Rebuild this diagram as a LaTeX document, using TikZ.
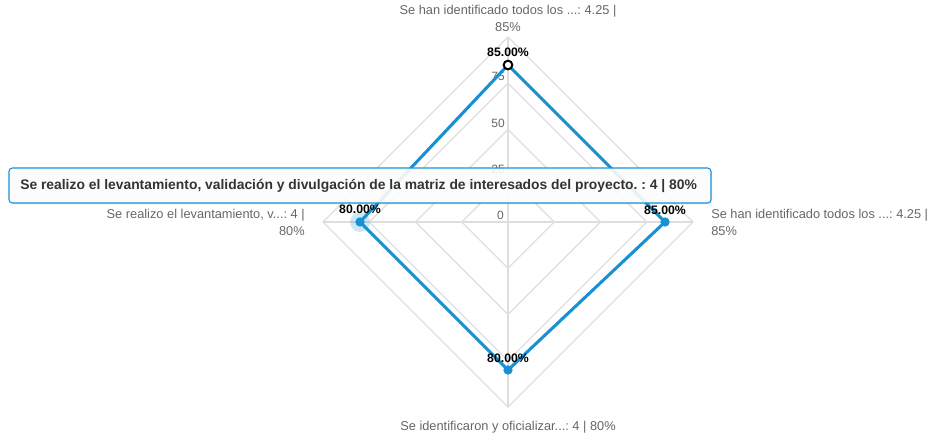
\documentclass[tikz,border=0pt]{standalone}
\usepackage{fontspec}
\setmainfont{Liberation Sans}
\usetikzlibrary{shadows}
\frenchspacing
\definecolor{serie}{RGB}{24,144,212}
\definecolor{gridc}{RGB}{222,222,222}
\definecolor{axlab}{RGB}{102,102,102}
\definecolor{tipc}{RGB}{51,51,51}
\tikzset{
  gridline/.style={draw=gridc, line width=0.9pt},
  scalelab/.style={anchor=east, inner sep=0pt, text=axlab, font=\fontsize{9}{10}\selectfont},
  axislab/.style={inner sep=0pt, text=axlab, font=\fontsize{9.6}{12.4}\selectfont},
  datalab/.style={inner sep=0pt, text=black, font=\bfseries\fontsize{9.2}{10}\selectfont},
  serieline/.style={draw=serie, line width=2.3pt, line join=round},
  dot/.style={circle, fill=serie, inner sep=0pt, minimum size=7pt},
  opendot/.style={circle, draw=black, fill=white, line width=1.5pt, inner sep=0pt, minimum size=6.5pt},
  halo/.style={circle, fill=serie, fill opacity=0.22, inner sep=0pt, minimum size=15pt},
  tipbox/.style={draw=serie, line width=0.8pt, fill=white, fill opacity=0.88, rounded corners=2.5pt,
     drop shadow={shadow xshift=1pt, shadow yshift=-1pt, opacity=0.15}},
  tiptext/.style={anchor=west, inner sep=0pt, text=tipc, font=\bfseries\fontsize{10.4}{12}\selectfont}
}
\begin{document}
\begin{tikzpicture}[x=0.75pt,y=-0.75pt]
\useasboundingbox (0,0) rectangle (928,438);
\coordinate (c) at (508,222);
% grid rings
\foreach \r in {46.25,92.5,138.75,185}{
  \draw[gridline] (508,222-\r) -- (508+\r,222) -- (508,222+\r) -- (508-\r,222) -- cycle;
}
\coordinate (axT) at (508,37);
\coordinate (axB) at (508,407);
\coordinate (axL) at (323,222);
\coordinate (axR) at (693,222);
\draw[gridline] (axT) -- (axB);
\draw[gridline] (axL) -- (axR);
% scale labels
\node[scalelab] (s75) at (505,76) {75};
\node[scalelab] (s50) at (505,123) {50};
\node[scalelab] (s25) at (505,169) {25};
\node[scalelab] (s0) at (504,215) {0};
% data points
\coordinate (p1) at (508,65);
\coordinate (p2) at (665,222);
\coordinate (p3) at (508,370);
\coordinate (p4) at (360,222);
\draw[serieline] (p1) -- (p2) -- (p3) -- (p4) -- cycle;
\node[halo] (h4) at (p4) {};
\node[dot] (d2) at (p2) {};
\node[dot] (d3) at (p3) {};
\node[dot] (d4) at (p4) {};
\node[opendot] (d1) at (p1) {};
% data labels
\node[datalab] (l1) at (508,52) {85.00\%};
\node[datalab] (l2) at (665,210) {85.00\%};
\node[datalab] (l3) at (508,358) {80.00\%};
\node[datalab] (l4) at (360,209) {80.00\%};
% axis labels
\node[axislab, align=center, anchor=north] (a1) at (508,5) {Se han identificado todos los ...: 4.25 |\\85\%};
\node[axislab, align=left, anchor=north west] (a2) at (711,209) {Se han identificado todos los ...: 4.25 |\\85\%};
\node[axislab, align=right, anchor=north east] (a4) at (305,209) {Se realizo el levantamiento, v...: 4 |\\80\%};
\node[axislab] (a3) at (508,427) {Se identificaron y oficializar...: 4 | 80\%};
% tooltip
\path[tipbox] (9,168) rectangle (711,203);
\node[tiptext] (tip) at (20,185.5) {Se realizo el levantamiento, validación y divulgación de la matriz de interesados del proyecto. : 4 | 80\%};
\end{tikzpicture}
\end{document}
